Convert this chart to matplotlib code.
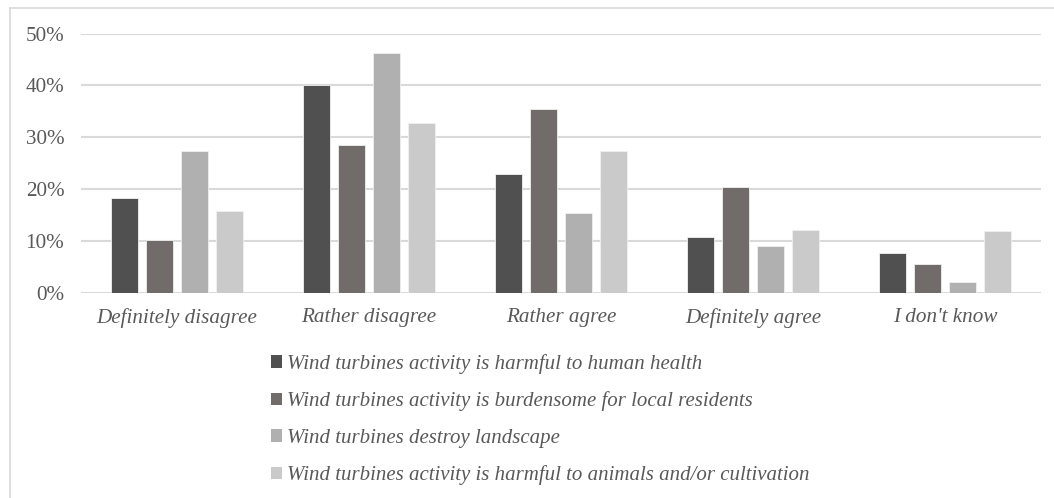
import numpy as np
import matplotlib.pyplot as plt
from matplotlib.patches import Rectangle
from matplotlib.lines import Line2D

plt.rcParams['font.family'] = ['Liberation Serif', 'DejaVu Serif']

categories = ['Definitely disagree', 'Rather disagree', 'Rather agree',
              'Definitely agree', "I don't know"]
series = ['Wind turbines activity is harmful to human health',
          'Wind turbines activity is burdensome for local residents',
          'Wind turbines destroy landscape',
          'Wind turbines activity is harmful to animals and/or cultivation']
health = [18.3, 40.1, 22.9, 10.8, 7.6]
residents = [10.1, 28.5, 35.4, 20.4, 5.5]
landscape = [27.4, 46.2, 15.3, 9.0, 2.0]
animals = [15.8, 32.8, 27.4, 12.1, 11.8]
yticks = [0, 10, 20, 30, 40, 50]

colors = ['#505050', '#716b6a', '#b0b0b0', '#cacaca']
text_col = '#595959'

fig = plt.figure(figsize=(10.54, 4.98), dpi=100)
ax = fig.add_axes([81 / 1054, 205.5 / 498, 960 / 1054, 259 / 498])

x = np.arange(len(categories))
w = 35 / 192
for i, vals in enumerate([health, residents, landscape, animals]):
    ax.bar(x + (i - 1.5) * w, vals, width=w * 0.79, color=colors[i],
           edgecolor='#f0f0f0', linewidth=0.6, zorder=3)

ax.set_xlim(-0.5, len(categories) - 0.5)
ax.set_ylim(0, 50)
ax.set_yticks(yticks)
ax.set_yticklabels([f'{v}%' for v in yticks], fontsize=15.2, color=text_col)
ax.set_xticks(x)
ax.set_xticklabels(categories, fontsize=15.2, style='italic', color=text_col)
ax.tick_params(axis='y', length=0, pad=12)
ax.tick_params(axis='x', length=0, pad=11)
ax.grid(axis='y', color='#d9d9d9', linewidth=1.5, zorder=0)
for s in ax.spines.values():
    s.set_visible(False)

# legend as a simple column of swatches under the axes
handles = [Rectangle((0, 0), 1, 1, facecolor=c, edgecolor='none') for c in colors]
leg = fig.legend(handles, series, loc='upper left', bbox_to_anchor=(271 / 1054, 1 - 354 / 498),
                 frameon=False, handlelength=0.55, handleheight=0.55, handletextpad=0.23,
                 labelspacing=0.84, prop={'size': 15, 'style': 'italic'}, borderpad=0,
                 borderaxespad=0)
for t in leg.get_texts():
    t.set_color(text_col)

# outer frame lines (top and left)
fig.add_artist(Line2D([10 / 1054, 1], [1 - 8 / 498, 1 - 8 / 498], color='#d9d9d9', lw=1.2))
fig.add_artist(Line2D([10 / 1054, 10 / 1054], [0, 1 - 8 / 498], color='#d9d9d9', lw=1.2))

fig.savefig('out.png', dpi=100)
